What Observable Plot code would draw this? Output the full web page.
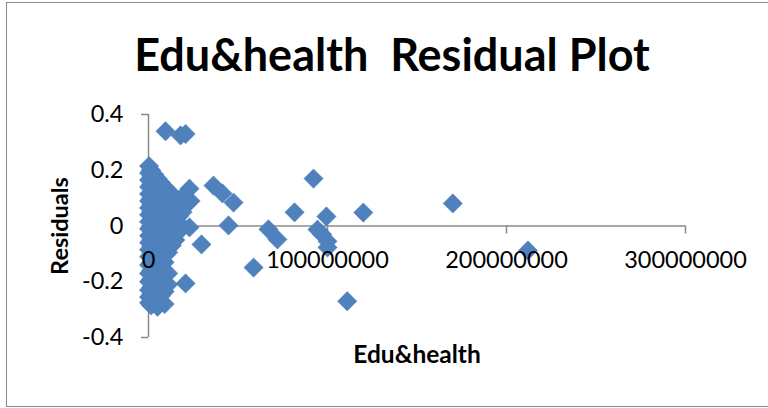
<!DOCTYPE html>
<html><head><meta charset="utf-8">
<script src="https://cdn.jsdelivr.net/npm/d3@7"></script>
<script src="https://cdn.jsdelivr.net/npm/@observablehq/plot@0.6"></script>
<style>
body{margin:0;background:#fff;}
#wrap{position:relative;width:768px;height:408px;overflow:hidden;}
#border{position:absolute;left:6px;top:2px;width:790px;height:405px;border:1.5px solid #8a8a8a;box-sizing:border-box;pointer-events:none}
svg text{white-space:pre;}
</style></head>
<body><div id="wrap"></div>
<script>
// Edu&health values (x) and residuals (y)
const eduHealth = [
  9.5e6, 17.9e6, 20.7e6, 36.3e6, 41.3e6, 47.5e6, 22.9e6, 23.5e6, 44.7e6, 29.6e6,
  58.7e6, 20.7e6, 22.9e6, 67e6, 72e6, 92.2e6, 81.6e6, 99.4e6, 120e6, 94.4e6,
  97e6, 100e6, 100e6, 111e6, 170e6, 212e6, 19e6, 21e6,
  0.3e6,0.3e6,0.3e6,0.3e6,0.3e6,0.3e6,0.3e6,0.3e6,0.3e6,0.3e6,0.3e6,0.3e6,0.3e6,0.3e6,0.3e6,0.3e6,0.3e6,0.3e6,0.3e6,0.3e6,
  1.5e6,1.5e6,1.5e6,1.5e6,1.5e6,1.5e6,1.5e6,1.5e6,1.5e6,1.5e6,1.5e6,1.5e6,1.5e6,1.5e6,1.5e6,1.5e6,1.5e6,1.5e6,1.5e6,1.5e6,
  3.2e6,3.2e6,3.2e6,3.2e6,3.2e6,3.2e6,3.2e6,3.2e6,3.2e6,3.2e6,3.2e6,3.2e6,3.2e6,3.2e6,3.2e6,3.2e6,3.2e6,
  5e6,5e6,5e6,5e6,5e6,5e6,5e6,5e6,5e6,5e6,5e6,5e6,5e6,5e6,5e6,5e6,
  7e6,7e6,7e6,7e6,7e6,7e6,7e6,7e6,7e6,7e6,7e6,7e6,7e6,
  9e6,9e6,9e6,9e6,9e6,9e6,9e6,9e6,9e6,9e6,9e6,9e6,9e6,9e6,
  11e6,11e6,11e6,11e6,11e6,11e6,11e6,11e6,11e6,11e6,
  13e6,13e6,13e6,13e6,13e6,13e6,
  15e6,15e6,15e6,15e6,15e6,
  17e6,17e6,17e6,17e6,17e6,
  19e6,19e6
];
const residuals = [
  0.34, 0.325, 0.33, 0.145, 0.117, 0.084, 0.134, 0.09, 0.002, -0.066,
  -0.149, -0.206, -0.005, -0.012, -0.048, 0.17, 0.049, 0.034, 0.048, -0.013,
  -0.03, -0.055, -0.077, -0.27, 0.081, -0.088, 0.105, 0.075,
  0.215,0.19,0.165,0.14,0.115,0.09,0.065,0.04,0.015,-0.01,-0.035,-0.06,-0.085,-0.11,-0.14,-0.17,-0.2,-0.23,-0.255,-0.275,
  0.2,0.175,0.15,0.12,0.1,0.075,0.05,0.02,-0.005,-0.03,-0.05,-0.075,-0.1,-0.13,-0.16,-0.19,-0.22,-0.245,-0.27,-0.285,
  0.185,0.16,0.13,0.105,0.08,0.055,0.03,0.0,-0.025,-0.055,-0.08,-0.11,-0.15,-0.18,-0.21,-0.24,-0.27,
  0.17,0.14,0.11,0.085,0.06,0.035,0.01,-0.02,-0.045,-0.07,-0.1,-0.17,-0.2,-0.23,-0.26,-0.29,
  0.155,0.125,0.095,0.07,0.045,0.02,-0.01,-0.04,-0.065,-0.09,-0.19,-0.22,-0.25,
  0.14,0.11,0.08,0.05,0.025,0.0,-0.03,-0.06,-0.085,-0.13,-0.16,-0.2,-0.235,-0.28,
  0.125,0.1,0.07,0.04,0.01,-0.02,-0.05,-0.095,-0.17,-0.21,
  0.115,0.085,0.06,0.03,0.005,-0.07,
  0.1,0.07,0.045,0.02,-0.05,
  0.09,0.06,0.035,0.01,-0.02,
  0.075,0.05
];
const xTicks = [0, 100000000, 200000000, 300000000];
const yTicks = [-0.4, -0.2, 0, 0.2, 0.4];
const titleText = "Edu&health  Residual Plot";
const xLabel = "Edu&health";
const yLabel = "Residuals";

const data = eduHealth.map((x, i) => ({x, y: residuals[i]}));
const font = "Lato, 'Open Sans', sans-serif";
const axisColor = "#8a8a8a";

const chart = Plot.plot({
  width: 768, height: 408,
  marginLeft: 148, marginRight: 83, marginTop: 114, marginBottom: 71,
  style: {fontFamily: font, fontSize: "23.5px", color: "#000", background: "white", overflow: "visible"},
  x: {domain: [0, 300000000], axis: null},
  y: {domain: [-0.4, 0.4], axis: null},
  marks: [
    Plot.ruleX([0], {stroke: axisColor, strokeWidth: 1.5}),
    Plot.ruleY(yTicks, {y: d => d, x1: 0, x2: 0, insetLeft: -7, stroke: axisColor, strokeWidth: 1.5}),
    Plot.ruleY([0], {stroke: axisColor, strokeWidth: 1.5}),
    Plot.ruleX(xTicks, {x: d => d, y1: 0, y2: 0, insetBottom: -8, stroke: axisColor, strokeWidth: 1.5}),
    Plot.dot(data, {x: "x", y: "y", symbol: "diamond2", r: 8.7, fill: "#4F81BD", stroke: "#4A7EBB", strokeWidth: 0.5}),
    Plot.text(yTicks, {y: d => d, frameAnchor: "left", dx: -25, textAnchor: "end", text: d => String(d), fill: "#000"}),
    Plot.text(xTicks, {x: d => d, y: 0, dy: 34, textAnchor: "middle", text: d => String(d), fill: "#000"}),
    Plot.text([titleText], {frameAnchor: "top", dx: -25, dy: -75, text: d => d, fontSize: 45, fontWeight: "bold", fill: "#000"}),
    Plot.text([xLabel], {frameAnchor: "bottom", dx: 0, dy: 25, text: d => d, fontSize: 24.5, fontWeight: "bold", fill: "#000"}),
    Plot.text([yLabel], {frameAnchor: "left", dx: -88, rotate: -90, textAnchor: "middle", text: d => d, fontSize: 23.5, fontWeight: "bold", fill: "#000"})
  ]
});
const wrap = document.getElementById("wrap");
wrap.appendChild(chart);
const border = document.createElement("div");
border.id = "border";
wrap.appendChild(border);
</script>
</body></html>
